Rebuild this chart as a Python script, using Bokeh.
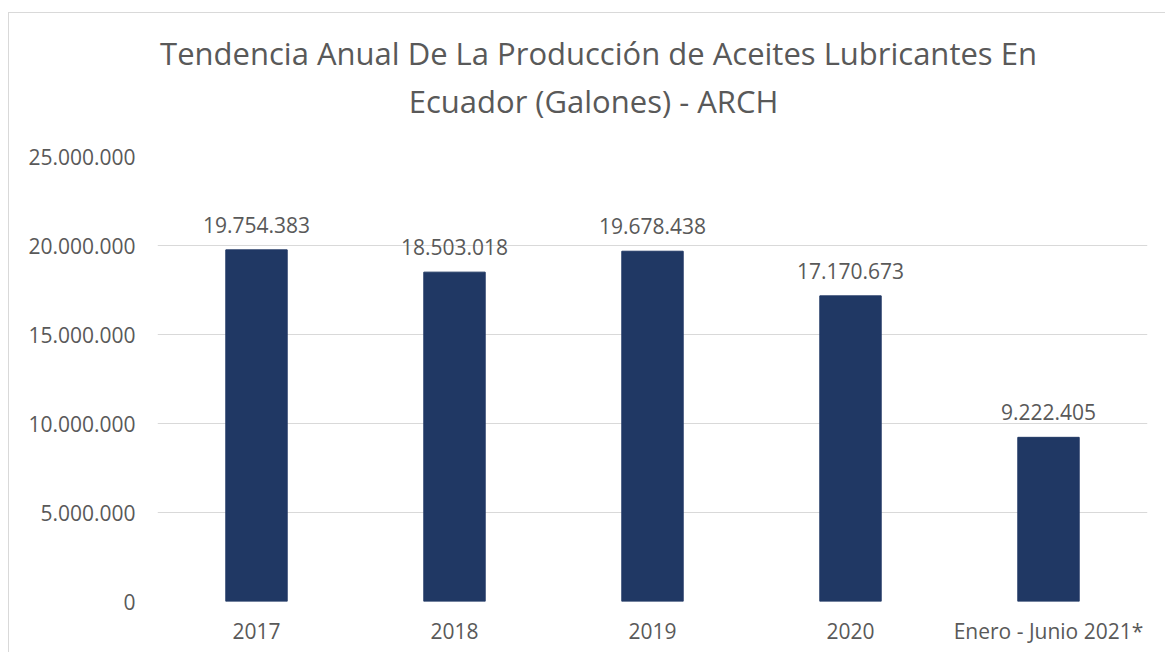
from bokeh.plotting import figure
from bokeh.layouts import column
from bokeh.models import ColumnDataSource, LabelSet, Range1d, FixedTicker
from bokeh.core.properties import value
from bokeh.embed import file_html
from bokeh.resources import INLINE

categories = ["2017", "2018", "2019", "2020", "Enero - Junio 2021*"]
values = [19754383, 18503018, 19678438, 17170673, 9222405]
y_ticks = [0, 5000000, 10000000, 15000000, 20000000, 25000000]
title_lines = ["Tendencia Anual De La Producción de Aceites Lubricantes En",
               "Ecuador (Galones) - ARCH"]

def fmt(v):
    return f"{v:,}".replace(",", ".")

FONT = "Open Sans"
TXT = "#595959"
GRID = "#d9d9d9"
BAR = "#203864"

W = 1156
TH = 120
BL, BR = 148, 18
FW = W - BL - BR

# ---- title strip (frame aligned with the chart frame) ----
t = figure(width=W, height=TH, x_range=Range1d(0, FW), y_range=Range1d(0, TH),
           output_backend="svg", toolbar_location=None, title=None,
           min_border_left=BL, min_border_right=BR,
           min_border_top=0, min_border_bottom=0)
t.axis.visible = False
t.grid.visible = False
t.outline_line_color = None
t.text(x=[441, 436], y=[81, 33], text=title_lines, text_align="center",
       text_baseline="alphabetic", text_font=value(FONT), text_font_size="31px",
       text_color=TXT)

# ---- main chart ----
src = ColumnDataSource(dict(cat=categories, val=values, lab=[fmt(v) for v in values]))

p = figure(x_range=categories, y_range=Range1d(0, 25000000),
           width=W, height=519, output_backend="svg", toolbar_location=None,
           min_border_left=BL, min_border_top=23, min_border_right=BR,
           min_border_bottom=51)
p.outline_line_color = None

p.vbar(x="cat", top="val", width=0.31, source=src, fill_color=BAR, line_color=BAR)

p.add_layout(LabelSet(x="cat", y="val", text="lab", source=src, y_offset=17,
                      text_align="center", text_baseline="alphabetic",
                      text_font=value(FONT), text_font_size=value("21px"), text_color=TXT))

p.yaxis.ticker = FixedTicker(ticks=y_ticks)
p.yaxis.major_label_overrides = {t_: fmt(t_) for t_ in y_ticks}
p.yaxis.axis_line_color = None
p.yaxis.major_tick_line_color = None
p.yaxis.minor_tick_line_color = None
p.yaxis.major_tick_out = 0
p.yaxis.major_tick_in = 0
p.yaxis.major_label_standoff = 22
p.yaxis.major_label_text_font = FONT
p.yaxis.major_label_text_font_size = "21px"
p.yaxis.major_label_text_color = TXT

p.xaxis.axis_line_color = None
p.xaxis.major_tick_line_color = None
p.xaxis.minor_tick_line_color = None
p.xaxis.major_tick_out = 0
p.xaxis.major_tick_in = 0
p.xaxis.major_label_standoff = 15
p.xaxis.major_label_text_font = FONT
p.xaxis.major_label_text_font_size = "21px"
p.xaxis.major_label_text_color = TXT

p.xgrid.grid_line_color = None
p.ygrid.grid_line_color = GRID
p.ygrid.grid_line_width = 1

layout = column(t, p, spacing=0)
layout.styles = {"margin-left": "8px", "margin-top": "12px",
                 "border-left": "1px solid #d9d9d9", "border-top": "1px solid #d9d9d9"}

open("out.html", "w").write(file_html(layout, INLINE))
